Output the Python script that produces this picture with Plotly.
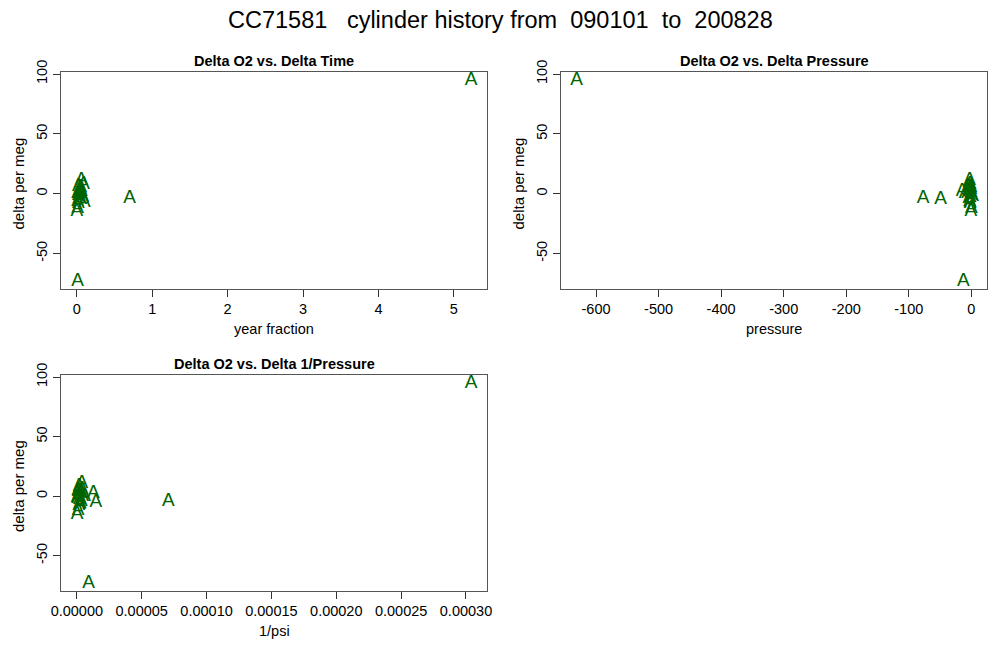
import plotly.graph_objects as go

# Data (one entry per cylinder comparison)
delta_time = [5.23, 0.01, 0.70, 0.05, 0.03, 0.06, 0.00, 0.01, 0.02, 0.04, 0.03, 0.05,
              0.08, 0.02, 0.01, 0.07, 0.04, 0.09, 0.03, 0.06, 0.02, 0.05, 0.10, 0.01]
delta_pressure = [-631, -13, -77, -49, -15, -3, -1, 0, -2, -4, -6, -1,
                  -2, -5, -3, 2, -1, -2, -4, -3, 0, -1, -2, -10]
delta_inv_pressure = [0.000304, 0.0000090, 0.0000706, 0.0000146, 0.0000128, 0.0000039,
                      0.0000002, 0.0000010, 0.0000015, 0.0000030, 0.0000045, 0.0000008,
                      0.0000020, 0.0000040, 0.0000025, 0.0000005, 0.0000012, 0.0000018,
                      0.0000035, 0.0000028, 0.0000003, 0.0000009, 0.0000022, 0.0000060]
delta_o2 = [95, -73, -4, -5, 2, 11, -15, -12, -8, 3, 0, 5,
            -3, 6, -6, -2, 1, 8, -4, 2, -1, 4, -7, 0]

# Tick labels
time_ticks = [0, 1, 2, 3, 4, 5]
time_labels = ["0", "1", "2", "3", "4", "5"]
pressure_ticks = [-600, -500, -400, -300, -200, -100, 0]
pressure_labels = ["-600", "-500", "-400", "-300", "-200", "-100", "0"]
inv_ticks = [0, 0.00005, 0.00010, 0.00015, 0.00020, 0.00025, 0.00030]
inv_labels = ["0.00000", "0.00005", "0.00010", "0.00015", "0.00020", "0.00025", "0.00030"]
o2_ticks = [-50, 0, 50, 100]
o2_labels = ["-50", "0", "50", "100"]

title = "CC71581\u00a0\u00a0\u00a0cylinder history from\u00a0\u00a0090101\u00a0\u00a0to\u00a0\u00a0200828"
green = "#006400"
font_fam = "Liberation Sans, Arial, sans-serif"

# page has an 8px body margin; work in window pixels and convert
OFF = 8
W, H = 1000 - OFF, 670 - OFF


def fx(px):
    return (px - OFF) / W


def fy(py):
    return 1 - (py - OFF) / H


fig = go.Figure()

panels = [
    dict(x=delta_time, xa="x", ya="y", xr=[-0.21, 5.44], tv=time_ticks, tt=time_labels,
         box=(61, 487, 72, 289), sub="Delta O2 vs. Delta Time", xlab="year fraction"),
    dict(x=delta_pressure, xa="x2", ya="y2", xr=[-656, 25], tv=pressure_ticks,
         tt=pressure_labels, box=(561, 987, 72, 289),
         sub="Delta O2 vs. Delta Pressure", xlab="pressure"),
    dict(x=delta_inv_pressure, xa="x3", ya="y3", xr=[-0.0000122, 0.0003162], tv=inv_ticks,
         tt=inv_labels, box=(61, 487, 375, 591),
         sub="Delta O2 vs. Delta 1/Pressure", xlab="1/psi"),
]

annotations = [dict(text=title, x=fx(500), y=fy(20), xref="paper", yref="paper",
                    xanchor="center", yanchor="middle", showarrow=False,
                    font=dict(size=23.5, color="black", family=font_fam))]

for i, p in enumerate(panels):
    x0, x1, y0, y1 = p["box"]
    fig.add_trace(go.Scatter(x=p["x"], y=delta_o2, mode="text", text=["A"] * len(delta_o2),
                             textposition="middle center",
                             textfont=dict(size=19, color=green, family=font_fam),
                             xaxis=p["xa"], yaxis=p["ya"], showlegend=False,
                             hoverinfo="x+y"))
    xkey = "xaxis" if i == 0 else f"xaxis{i+1}"
    ykey = "yaxis" if i == 0 else f"yaxis{i+1}"
    axis_common = dict(showgrid=False, zeroline=False, showline=True, mirror=True,
                       linecolor="#555555", linewidth=1, ticks="outside", ticklen=7,
                       tickcolor="#333333", automargin=False,
                       tickfont=dict(size=14.5, color="black", family=font_fam))
    fig.layout[xkey] = dict(axis_common, domain=[fx(x0), fx(x1)], range=p["xr"],
                            tickvals=p["tv"], ticktext=p["tt"], anchor=p["ya"])
    fig.layout[ykey] = dict(axis_common, domain=[fy(y1), fy(y0)], range=[-79.7, 101.7],
                            tickvals=o2_ticks, ticktext=o2_labels, tickangle=-90,
                            anchor=p["xa"])
    cx = (x0 + x1) / 2
    annotations.append(dict(text=f"<b>{p['sub']}</b>", x=fx(cx), y=fy(y0 - 11),
                            xref="paper", yref="paper", xanchor="center", yanchor="middle",
                            showarrow=False, font=dict(size=14.5, color="black", family=font_fam)))
    annotations.append(dict(text=p["xlab"], x=fx(cx), y=fy(y1 + 40),
                            xref="paper", yref="paper", xanchor="center", yanchor="middle",
                            showarrow=False, font=dict(size=14.5, color="black", family=font_fam)))
    annotations.append(dict(text="delta per meg", x=fx(x0 - 43), y=fy((y0 + y1) / 2 + 3),
                            xref="paper", yref="paper",
                            xanchor="center", yanchor="middle", textangle=-90,
                            showarrow=False, font=dict(size=15, color="black", family=font_fam)))

fig.update_layout(width=W, height=H, margin=dict(l=0, r=0, t=0, b=0),
                  paper_bgcolor="white", plot_bgcolor="white", annotations=annotations)

fig.write_html("out.html")
